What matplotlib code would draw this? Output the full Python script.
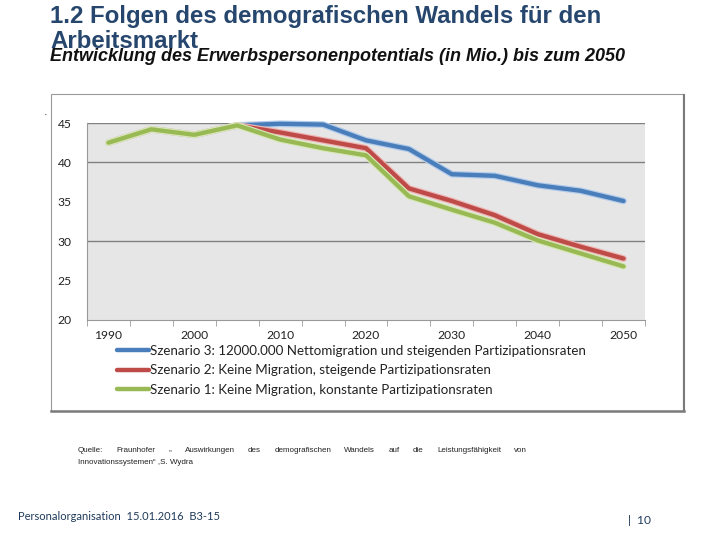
import matplotlib
matplotlib.use('Agg')
import matplotlib.pyplot as plt
import matplotlib.patheffects as pe
from matplotlib.lines import Line2D
from matplotlib.patches import Rectangle
import numpy as np

# ---------------- data ----------------
years = ['1990', '1995', '2000', '2005', '2010', '2015', '2020',
         '2025', '2030', '2035', '2040', '2045', '2050']
szenario3 = [42.5, 44.2, 43.5, 44.7, 44.9, 44.8, 42.8, 41.7, 38.5, 38.3, 37.1, 36.4, 35.1]
szenario2 = [42.5, 44.2, 43.5, 44.7, 43.8, 42.8, 41.8, 36.7, 35.1, 33.3, 30.9, 29.3, 27.8]
szenario1 = [42.5, 44.2, 43.5, 44.7, 42.9, 41.8, 40.9, 35.7, 34.0, 32.35, 30.1, 28.45, 26.8]
labels = ['Szenario 3: 12000.000 Nettomigration und steigenden Partizipationsraten',
          'Szenario 2: Keine Migration, steigende Partizipationsraten',
          'Szenario 1: Keine Migration, konstante Partizipationsraten']
y_ticks = [20, 25, 30, 35, 40, 45]
grid_values = [30, 40, 45]

title1 = '1.2 Folgen des demografischen Wandels für den'
title2 = 'Arbeitsmarkt'
subtitle = 'Entwicklung des Erwerbspersonenpotentials (in Mio.) bis zum 2050'
source1 = ['Quelle:', 'Fraunhofer', '„', 'Auswirkungen', 'des', 'demografischen',
           'Wandels', 'auf', 'die', 'Leistungsfähigkeit', 'von']
source2 = 'Innovationssystemen“ ,S. Wydra'
footer = 'Personalorganisation  15.01.2016  B3-15'
page = '|  10'

colors = ['#4A7EBB', '#BE4B48', '#98B954']
halos = ['#B4CCEB', '#EDB5B3', '#D8E8B8']

W, H = 720, 540
fig = plt.figure(figsize=(7.2, 5.4), dpi=100)
fig.patch.set_facecolor('white')

def fx(px):
    return px / W

def fy(py):
    return 1 - py / H

# chart frame
fig.add_artist(Rectangle((fx(51), fy(411)), fx(683) - fx(51), fy(94) - fy(411),
                         transform=fig.transFigure, facecolor='none',
                         edgecolor='#9a9a9a', lw=0.8))
fig.add_artist(Line2D([fx(51), fx(684)], [fy(411), fy(411)], transform=fig.transFigure,
                      color='#7a7a7a', lw=1.8))
fig.add_artist(Line2D([fx(684), fx(684)], [fy(95), fy(411)], transform=fig.transFigure,
                      color='#7a7a7a', lw=1.5))

ax = fig.add_axes([fx(87), fy(320), fx(645) - fx(87), fy(123) - fy(320)])
ax.set_facecolor('#E6E6E6')
x = np.arange(len(years))
series = [szenario3, szenario2, szenario1]
handles = []
for i, (vals, c, h) in enumerate(zip(series, colors, halos)):
    ln, = ax.plot(x, vals, color=c, lw=3.1, solid_capstyle='round', solid_joinstyle='round',
                  zorder=3 + i, clip_on=False,
                  path_effects=[pe.Stroke(linewidth=4.8, foreground=h), pe.Normal()])
    handles.append(ln)

ax.set_xlim(-0.5, len(years) - 0.5)
ax.set_ylim(20, 45)
for g in grid_values:
    ax.axhline(g, color='#808080', lw=1.0, zorder=1)

ax.set_xticks(x[::2])
ax.set_xticklabels(years[::2])
ax.set_xticks(np.arange(len(years) + 1) - 0.5, minor=True)
ax.tick_params(axis='x', which='major', length=0, pad=7, labelsize=8.7, colors='#222222')
ax.tick_params(axis='x', which='minor', length=4, color='#999999', direction='out')
ax.set_yticks(y_ticks)
ax.tick_params(axis='y', length=0, pad=11, labelsize=8.7, colors='#222222')
for lab in ax.get_xticklabels() + ax.get_yticklabels():
    lab.set_fontfamily('Lato')
for s in ['top', 'right']:
    ax.spines[s].set_visible(False)
for s in ['left', 'bottom']:
    ax.spines[s].set_color('#999999')
    ax.spines[s].set_linewidth(0.8)

leg = fig.legend(handles, labels, loc='upper left', bbox_to_anchor=(fx(117), fy(345)),
                 frameon=False, borderpad=0, borderaxespad=0, handlelength=2.4,
                 handletextpad=0.1, labelspacing=0.55,
                 prop={'family': 'Lato', 'size': 9.6})
for t in leg.get_texts():
    t.set_color('#222222')
for lh in leg.get_lines():
    lh.set_path_effects([])
    lh.set_linewidth(3.2)

# titles
fig.text(fx(50), fy(22.5), title1, fontfamily='Liberation Sans', fontweight='bold',
         fontsize=17.3, color='#26466D', va='baseline', ha='left')
fig.text(fx(50), fy(48), title2, fontfamily='Liberation Sans', fontweight='bold',
         fontsize=17.3, color='#26466D', va='baseline', ha='left')
fig.text(fx(50), fy(61), subtitle, fontfamily='Liberation Sans', fontweight='bold',
         fontstyle='italic', fontsize=13.0, color='#111111', va='baseline', ha='left')
fig.text(fx(44), fy(115), '.', fontsize=8, color='#333333', va='baseline')

# justified source line
renderer = fig.canvas.get_renderer()
kw = dict(fontfamily='Liberation Sans', fontsize=5.8, color='#222222', va='center', ha='left')
texts = [fig.text(0, fy(450), w, **kw) for w in source1]
widths = [t.get_window_extent(renderer).width for t in texts]
x0, x1 = 78, 527
gap = ((x1 - x0) - sum(widths)) / (len(source1) - 1)
xp = x0
for t, wd in zip(texts, widths):
    t.set_x(fx(xp))
    xp += wd + gap
fig.text(fx(78), fy(463), source2, **kw)

fig.text(fx(18), fy(516), footer, fontfamily='Lato', fontsize=8.0, color='#1F3A5A',
         va='center', ha='left')
fig.text(fx(628), fy(521), page, fontfamily='Lato', fontsize=8.6, color='#1F3A5A',
         va='center', ha='left')

fig.savefig('out.png', dpi=100, facecolor='white')
